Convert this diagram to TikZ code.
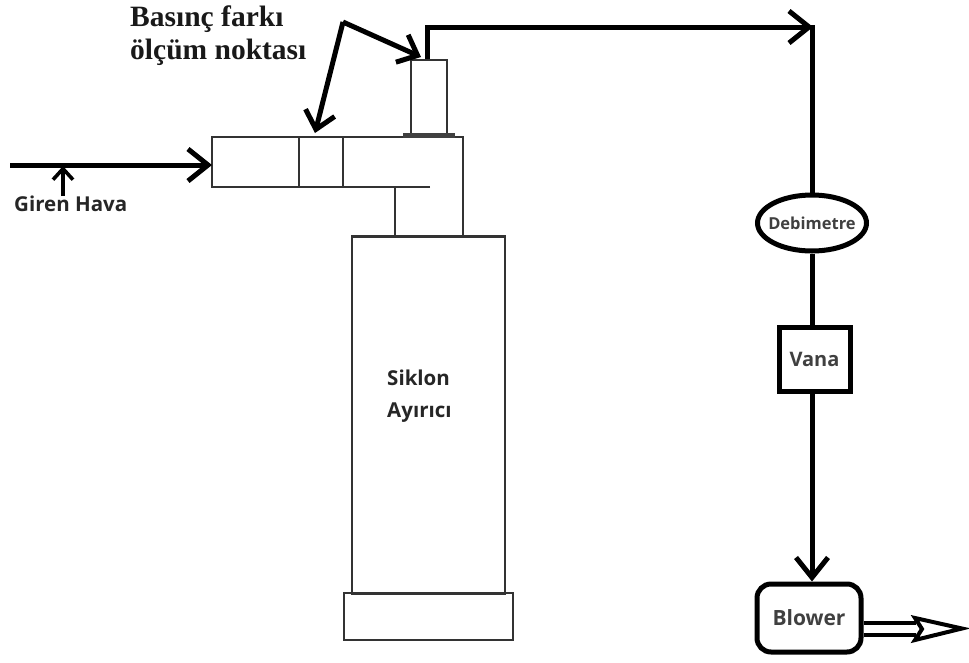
\documentclass[tikz,border=0pt]{standalone}
\usepackage{fontspec}
\setmainfont{Open Sans}
\newfontfamily\serifbold{Liberation Serif}[Ligatures=TeX]
\usetikzlibrary{arrows.meta}
\usetikzlibrary{shapes.geometric}
\tikzstyle{part}=[draw=black!80, line width=2.4pt, inner sep=0pt]
\tikzstyle{flowline}=[draw=black, line width=5pt]
\tikzstyle{flowarrow}=[flowline, -{Straight Barb[length=20pt, width=32pt]}]
\tikzstyle{pointer}=[flowline, -{Straight Barb[length=17pt, width=30pt]}]
\tikzstyle{instrument}=[draw=black, line width=5pt, inner sep=0pt, text=black!75]
\tikzstyle{partlabel}=[inner sep=0pt, anchor=west, font=\fontsize{20.5}{24}\selectfont\bfseries, text=black!85]
\tikzstyle{notelabel}=[inner sep=0pt, anchor=west, font=\serifbold\fontsize{29.5}{34}\selectfont\bfseries, text=black!90]

\begin{document}
\begin{tikzpicture}[x=1pt, y=-1pt]
        \useasboundingbox (0, 0) rectangle (969, 662);
        % cyclone body and base
        \node[part, minimum width=153pt, minimum height=357pt] (body) at (428.5, 415) {};
        \node[part, minimum width=169pt, minimum height=47pt] (base) at (428.5, 616.5) {};
        \node[partlabel] (siklon) at (387, 378) {Siklon};
        \node[partlabel] (ayirici) at (387, 413) {Ayırıcı};
        % inlet duct
        \coordinate (ductTL) at (212, 137);
        \coordinate (ductBL) at (212, 187);
        \coordinate (ductTR) at (463, 137);
        \coordinate (ductBR) at (430, 187);
        \coordinate (ductR) at (463, 237);
        \coordinate (stemT) at (395, 187);
        \coordinate (stemB) at (395, 237);
        \draw[part] (ductBR) -- (ductBL) -- (ductTL) -- (ductTR) -- (ductR);
        \draw[part] (stemT) -- (stemB);
        \draw[part] (299, 137) -- (299, 187);
        \draw[part] (343, 137) -- (343, 187);
        % outlet tube
        \node[part, minimum width=36pt, minimum height=75pt] (tube) at (429, 97.5) {};
        \fill[black!75] (403, 133) rectangle (455, 138);
        % flow line
        \node[instrument, ellipse, minimum width=109pt, minimum height=56pt, label={[text=black!75, font=\fontsize{16.5}{20}\selectfont\bfseries]center:Debimetre}] (debimetre) at (812, 223) {};
        \node[instrument, minimum width=71pt, minimum height=64pt, font=\fontsize{20}{24}\selectfont\bfseries] (vana) at (814.5, 359) {Vana};
        \node[instrument, rounded corners=14pt, minimum width=104pt, minimum height=68pt, font=\fontsize{21}{25}\selectfont\bfseries] (blower) at (809, 618) {Blower};
        \coordinate (inletL) at (10, 165);
        \coordinate (inletR) at (212, 165);
        \coordinate (tubeUp) at (427, 27);
        \coordinate (corner) at (813, 27);
        \draw[flowarrow] (inletL) -- (inletR);
        \draw[flowarrow] (tube.north -| tubeUp) -- (tubeUp) -- (corner);
        \draw[flowline] (debimetre.north |- 0, 25) -- (debimetre.north);
        \draw[flowline] (debimetre.south) -- (debimetre.south |- vana.north);
        \draw[flowarrow] (debimetre.south |- vana.south) -- (debimetre.south |- blower.north);
        % outlet arrow
        \draw[line width=4pt] (blower.east |- 0, 623) -- (916, 623);
        \draw[line width=4pt] (blower.east |- 0, 635) -- (916, 635);
        \draw[line width=4pt, line join=miter, fill=white] (915, 618) -- (962, 628.5) -- (915, 640) -- (922, 629) -- cycle;
        % pointers
        \coordinate (apex) at (343, 22);
        \coordinate (tubePoint) at (421, 57);
        \coordinate (ductPoint) at (315, 133);
        \draw[pointer] (apex) -- (tubePoint);
        \draw[pointer] (apex) -- (ductPoint);
        % labels
        \node[notelabel] (farki) at (130, 19) {Basınç farkı};
        \node[notelabel] (olcum) at (130, 52) {ölçüm noktası};
        \node[partlabel] (giren) at (14, 204) {Giren Hava};
        \coordinate (girenTip) at (63, 166);
        \draw[line width=3.6pt, -{Straight Barb[length=11pt, width=20pt]}] (63, 196) -- (girenTip);
    \end{tikzpicture}
\end{document}
